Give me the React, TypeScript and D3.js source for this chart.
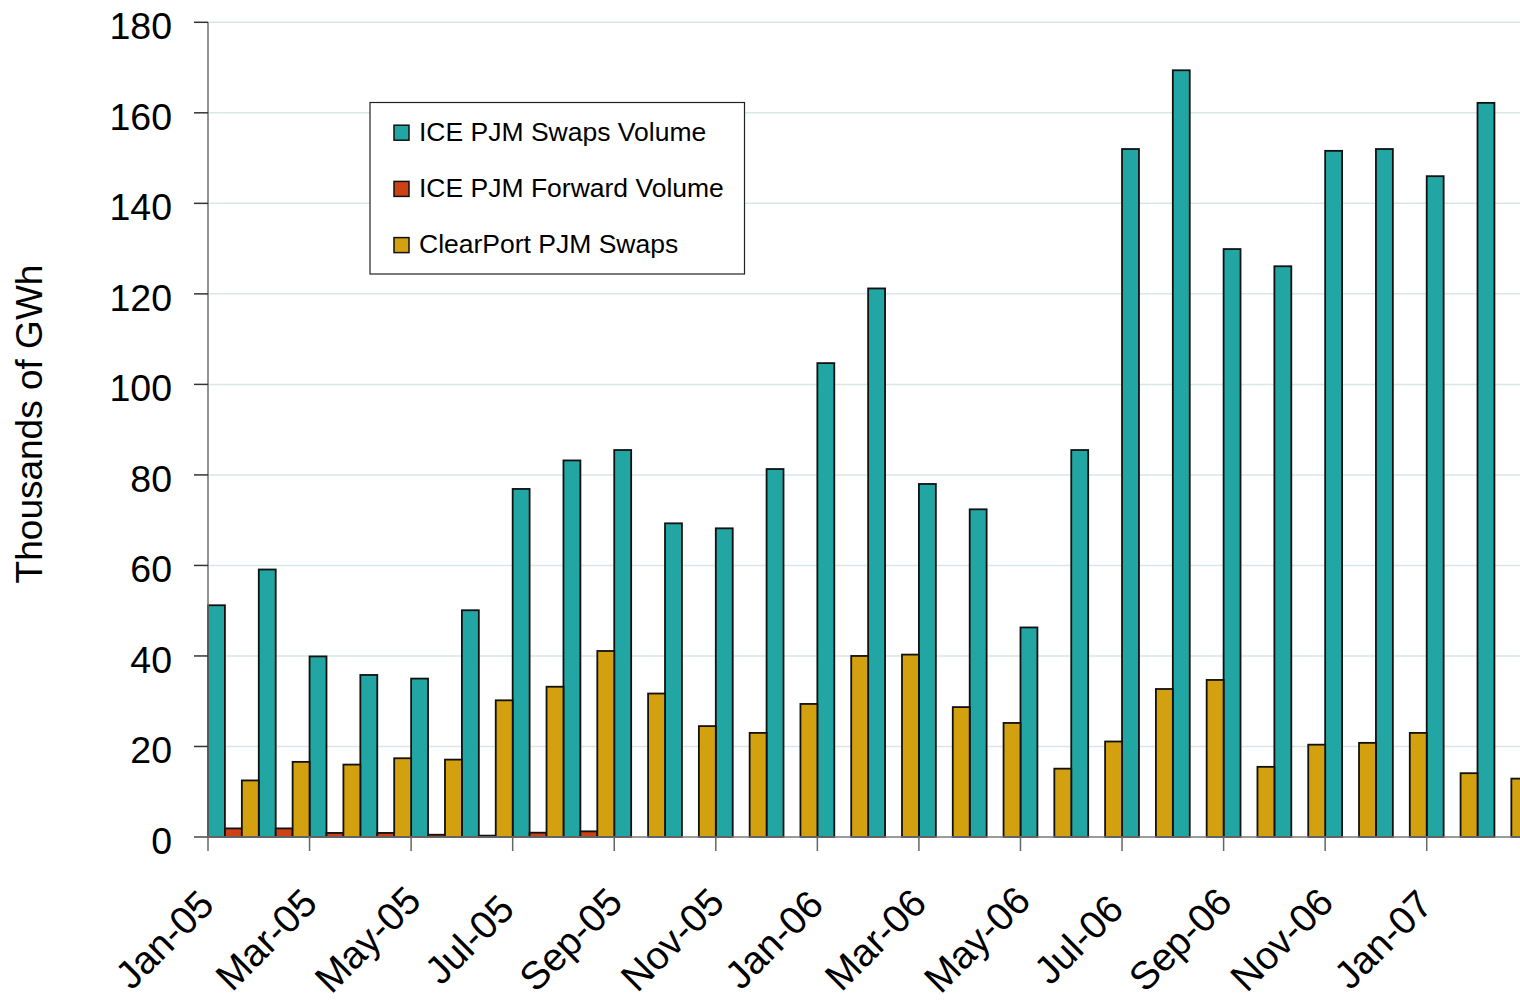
import React from 'react';
import * as d3 from 'd3';

const months = [
  'Jan-05', 'Feb-05', 'Mar-05', 'Apr-05', 'May-05', 'Jun-05', 'Jul-05', 'Aug-05', 'Sep-05', 'Oct-05', 'Nov-05', 'Dec-05',
  'Jan-06', 'Feb-06', 'Mar-06', 'Apr-06', 'May-06', 'Jun-06', 'Jul-06', 'Aug-06', 'Sep-06', 'Oct-06', 'Nov-06', 'Dec-06',
  'Jan-07', 'Feb-07',
];

const iceSwaps = [
  51.2, 59.1, 39.9, 35.8, 35.0, 50.1, 76.9, 83.2, 85.5, 69.3, 68.2, 81.3,
  104.7, 121.2, 78.0, 72.4, 46.3, 85.5, 152.0, 169.4, 129.9, 126.1, 151.6, 152.0,
  146.0, 162.2,
];

const iceForward = [
  1.9, 1.9, 0.9, 0.9, 0.5, 0.3, 0.95, 1.25, 0, 0, 0, 0,
  0, 0, 0, 0, 0, 0, 0, 0, 0, 0, 0, 0,
  0, 0,
];

const clearPort = [
  12.5, 16.6, 16.0, 17.4, 17.1, 30.2, 33.2, 41.1, 31.7, 24.5, 23.0, 29.4,
  40.0, 40.3, 28.7, 25.2, 15.1, 21.1, 32.7, 34.7, 15.5, 20.4, 20.8, 23.0,
  14.1, 12.9,
];

const seriesNames = ['ICE PJM Swaps Volume', 'ICE PJM Forward Volume', 'ClearPort PJM Swaps'];
const seriesColors = ['#22a6a3', '#cc4214', '#d3a00f'];
const yTicks = [0, 20, 40, 60, 80, 100, 120, 140, 160, 180];
const yTitle = 'Thousands of GWh';

const FONT = "'Liberation Sans', Arial, Helvetica, sans-serif";

export default function App() {
  const series = [iceSwaps, iceForward, clearPort];
  const step = 50.78;
  const left = 208;
  const right = left + months.length * step;
  const x = d3.scaleBand<string>().domain(months).range([left, right]).paddingInner(0).paddingOuter(0);
  const inner = d3.scaleBand<string>().domain(['0', '1', '2']).range([0, x.bandwidth()]).padding(0);
  const y = d3.scaleLinear().domain([0, 180]).range([837, 22.3]);

  const labelMonths = months.filter((_, i) => i % 2 === 0);

  return (
    <div style={{ position: 'fixed', left: 0, top: 0, width: 1520, height: 1003, overflow: 'hidden', background: '#fff' }}>
      <svg width={1540} height={1003} style={{ display: 'block', fontFamily: FONT }}>
        <rect x={0} y={0} width={1540} height={1003} fill="#fff" />
        {/* gridlines */}
        {yTicks.filter((t) => t > 0).map((t) => (
          <line key={'g' + t} x1={left} x2={right} y1={y(t)} y2={y(t)} stroke="#d9e7e7" strokeWidth={1.5} />
        ))}
        {/* bars */}
        {series.map((vals, si) => (
          <g key={'s' + si}>
            {vals.map((v, i) =>
              v > 0 ? (
                <rect
                  key={i}
                  x={(x(months[i]) as number) + (inner(String(si)) as number)}
                  y={y(v)}
                  width={inner.bandwidth()}
                  height={y(0) - y(v)}
                  fill={seriesColors[si]}
                  stroke="#111"
                  strokeWidth={1.8}
                />
              ) : null
            )}
          </g>
        ))}
        {/* y axis */}
        <line x1={left} x2={left} y1={y(180)} y2={y(0)} stroke="#6e6e6e" strokeWidth={1.5} />
        {yTicks.map((t) => (
          <g key={'yt' + t}>
            <line x1={194} x2={left} y1={y(t)} y2={y(t)} stroke="#333" strokeWidth={1.5} />
            <text x={172} y={y(t) + 17} textAnchor="end" fontSize={37.5} fill="#000">
              {t}
            </text>
          </g>
        ))}
        {/* x axis */}
        <line x1={194} x2={right} y1={y(0)} y2={y(0)} stroke="#7a7a7a" strokeWidth={1.5} />
        {labelMonths.map((m) => {
          const tx = x(m) as number;
          return (
            <g key={'xt' + m}>
              <line x1={tx} x2={tx} y1={y(0)} y2={y(0) + 14} stroke="#666" strokeWidth={1.5} />
              <text
                transform={`translate(${tx - 34},949) rotate(-45)`}
                textAnchor="middle"
                fontSize={39}
                fill="#000"
              >
                {m}
              </text>
            </g>
          );
        })}
        {/* y title */}
        <text transform="translate(42,424) rotate(-90)" textAnchor="middle" fontSize={37} fill="#000">
          {yTitle}
        </text>
        {/* legend */}
        <g>
          <rect x={370} y={102.5} width={374.5} height={171.5} fill="#fff" stroke="#222" strokeWidth={1.2} />
          {seriesNames.map((name, i) => {
            const base = 140.7 + i * 56.2;
            return (
              <g key={'lg' + i}>
                <rect x={394} y={base - 15.5} width={15} height={15} fill={seriesColors[i]} stroke="#111" strokeWidth={1.5} />
                <text x={419} y={base} fontSize={26.5} fill="#000">
                  {name}
                </text>
              </g>
            );
          })}
        </g>
      </svg>
    </div>
  );
}
